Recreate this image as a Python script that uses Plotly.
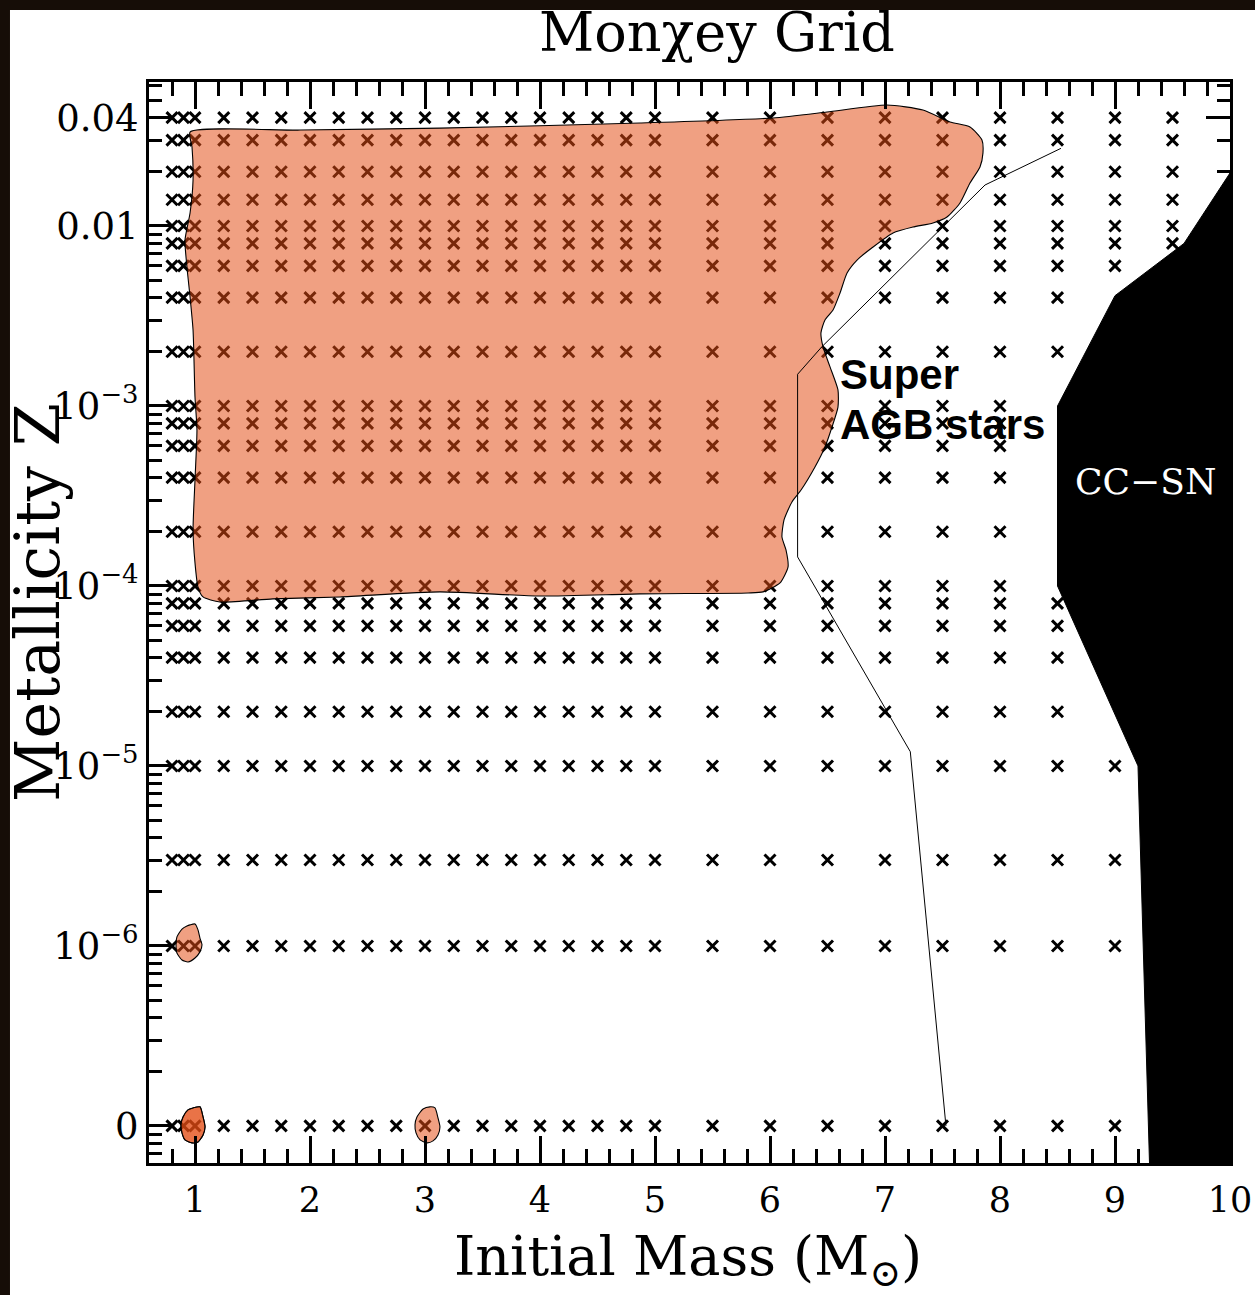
import numpy as np
import plotly.graph_objects as go

# ---------------- data ----------------
ZERO_Z = 1e-7  # position where Z = 0 is drawn on the log axis

grid_masses = [0.8, 0.9, 1.0, 1.25, 1.5, 1.75, 2.0, 2.25, 2.5, 2.75, 3.0, 3.25, 3.5,
               3.75, 4.0, 4.25, 4.5, 4.75, 5.0, 5.5, 6.0, 6.5, 7.0, 7.5, 8.0, 8.5, 9.0, 9.5]
grid_Z = [0.04, 0.03, 0.02, 0.014, 0.01, 0.008, 0.006, 0.004, 0.002, 0.001, 8e-4, 6e-4,
          4e-4, 2e-4, 1e-4, 8e-5, 6e-5, 4e-5, 2e-5, 1e-5, 3e-6, 1e-6, 0.0]
grid_max_mass = [9.5, 9.5, 9.5, 9.5, 9.5, 9.5, 9.0, 8.5, 8.5, 8.0, 8.0, 8.0,
                 8.0, 8.0, 8.0, 8.5, 8.5, 8.5, 8.5, 9.0, 9.0, 9.0, 9.0]

# main shaded region (mass, log10 Z)
region_mass = [0.957, 1.913, 3.130, 4.870, 6.026, 6.496, 7.017, 7.330, 7.565, 7.739, 7.843,
               7.852, 7.826, 7.739, 7.652, 7.539, 7.417, 7.243, 7.070, 6.896, 6.757, 6.670,
               6.609, 6.548, 6.478, 6.443, 6.461, 6.522, 6.591, 6.591, 6.539, 6.478, 6.391,
               6.270, 6.191, 6.122, 6.104, 6.139, 6.157, 6.087, 5.939, 5.809, 4.870, 4.000,
               3.130, 2.261, 1.678, 1.217, 1.070, 1.026, 1.000, 0.983, 1.000, 1.017, 1.000,
               0.983, 0.957, 0.930, 0.913, 0.957, 0.983, 0.974, 0.957]
region_logZ = [-1.478, -1.467, -1.456, -1.428, -1.400, -1.367, -1.328, -1.356, -1.422, -1.450,
               -1.522, -1.594, -1.672, -1.761, -1.872, -1.950, -1.983, -2.006, -2.039, -2.117,
               -2.189, -2.261, -2.372, -2.467, -2.522, -2.594, -2.672, -2.783, -2.911, -3.006,
               -3.117, -3.228, -3.339, -3.467, -3.533, -3.633, -3.728, -3.800, -3.894, -3.983,
               -4.033, -4.039, -4.044, -4.056, -4.033, -4.061, -4.072, -4.089, -4.061, -4.006,
               -3.872, -3.689, -3.411, -3.133, -2.950, -2.578, -2.394, -2.228, -2.078, -1.928,
               -1.744, -1.561, -1.478]

# small blobs (mass, log10 Z)
blob1_mass = [0.957, 1.000, 1.026, 1.043, 1.061, 1.043, 1.000, 0.939, 0.887, 0.843, 0.835, 0.843, 0.887, 0.930, 0.957]
blob1_logZ = [-5.883, -5.878, -5.911, -5.956, -5.994, -6.033, -6.067, -6.089, -6.078, -6.039, -5.994, -5.950, -5.906, -5.889, -5.883]
blob2_mass = [0.983, 1.043, 1.070, 1.087, 1.070, 1.026, 0.974, 0.913, 0.887, 0.878, 0.896, 0.939, 0.983]
blob2_logZ = [-6.900, -6.894, -6.950, -7.006, -7.050, -7.089, -7.094, -7.078, -7.039, -6.994, -6.950, -6.911, -6.900]
blob3_mass = [3.043, 3.087, 3.113, 3.130, 3.113, 3.070, 3.017, 2.957, 2.922, 2.913, 2.930, 2.983, 3.043]
blob3_logZ = [-6.894, -6.900, -6.956, -7.006, -7.050, -7.083, -7.094, -7.078, -7.039, -6.994, -6.950, -6.906, -6.894]

# super-AGB boundary line
sagb_mass = [8.53, 7.87, 6.45, 6.24, 6.24, 7.22, 7.53]
sagb_Z = [0.027, 0.0169, 0.00213, 0.0015, 1.45e-4, 1.2e-5, 0.0]

# core-collapse SN region
ccsn_mass = [10.0, 9.6, 9.0, 8.5, 8.5, 9.2, 9.3, 10.0, 10.0]
ccsn_Z = [0.0197, 0.008, 0.0041, 0.001, 1e-4, 1e-5, 6.2e-8, 6.2e-8, 0.0197]

y_tickvals = [1e-7, 1e-6, 1e-5, 1e-4, 1e-3, 1e-2, 0.04]
y_ticktext = ["0", "10<sup>−6</sup>", "10<sup>−5</sup>", "10<sup>−4</sup>",
              "10<sup>−3</sup>", "0.01", "0.04"]
x_tickvals = [1, 2, 3, 4, 5, 6, 7, 8, 9, 10]


def zpos(z):
    return [ZERO_Z if v == 0 else v for v in z]


# ---------------- figure ----------------
fig = go.Figure()

gx, gy = [], []
for z, mmax in zip(grid_Z, grid_max_mass):
    for m in grid_masses:
        if m <= mmax + 1e-9:
            gx.append(m)
            gy.append(ZERO_Z if z == 0 else z)

fig.add_trace(go.Scatter(
    x=gx, y=gy, mode="markers",
    marker=dict(symbol="x-thin", size=11, color="black",
                line=dict(width=3, color="black")),
    hoverinfo="skip", showlegend=False))

FILL = "rgba(226,75,19,0.53)"
for mx, lz in [(region_mass, region_logZ), (blob1_mass, blob1_logZ),
               (blob2_mass, blob2_logZ), (blob2_mass, blob2_logZ),
               (blob3_mass, blob3_logZ)]:
    fig.add_trace(go.Scatter(
        x=mx, y=list(10 ** np.array(lz)), mode="lines", fill="toself",
        fillcolor=FILL, line=dict(color="black", width=1.1, shape="spline", smoothing=0.6),
        hoverinfo="skip", showlegend=False))

fig.add_trace(go.Scatter(
    x=sagb_mass, y=zpos(sagb_Z), mode="lines",
    line=dict(color="black", width=1), hoverinfo="skip", showlegend=False))

fig.add_trace(go.Scatter(
    x=ccsn_mass, y=ccsn_Z, mode="lines", fill="toself",
    fillcolor="black", line=dict(color="black", width=1),
    hoverinfo="skip", showlegend=False))

# minor ticks for the log axis
y_minor = []
for d in range(-8, -1):
    for k in range(2, 10):
        v = k * 10.0 ** d
        if 6.2e-8 < v < 0.063 and abs(v - 0.04) > 1e-9:
            y_minor.append(v)

SERIF = "DejaVu Serif"
axis_common = dict(showline=True, linewidth=3, linecolor="black", mirror="ticks",
                   ticks="inside", tickwidth=2.6, tickcolor="black", showgrid=False,
                   zeroline=False, automargin=False)

fig.update_xaxes(range=[0.6, 10], tickvals=x_tickvals, ticklen=27,
                 ticklabelstandoff=4,
                 tickfont=dict(family=SERIF, size=35, color="black"),
                 minor=dict(ticks="inside", tick0=0, dtick=0.2, ticklen=14,
                            tickwidth=2.6, tickcolor="black", showgrid=False),
                 **axis_common)
fig.update_yaxes(type="log", range=[-7.206, -1.2], tickvals=y_tickvals,
                 ticktext=y_ticktext, ticklen=24, ticklabelstandoff=0,
                 tickfont=dict(family=SERIF, size=37, color="black"),
                 minor=dict(ticks="inside", tickmode="array", tickvals=y_minor,
                            ticklen=13, tickwidth=2.6, tickcolor="black", showgrid=False),
                 **axis_common)

annotations = [
    dict(text="Monχey Grid", x=0.5255, y=1.0462, xref="paper", yref="paper",
         xanchor="center", yanchor="middle",
         showarrow=False, font=dict(family=SERIF, size=54, color="black")),
    dict(text="Initial Mass (M<sub>⊙</sub>)", x=0.4986, y=-0.0895, xref="paper",
         yref="paper", xanchor="center", yanchor="middle",
         showarrow=False, font=dict(family=SERIF, size=54, color="black")),
    dict(text="Metallicity Z", x=-0.1027, y=0.519, xref="paper", yref="paper",
         xanchor="center", yanchor="middle",
         textangle=-90, showarrow=False, font=dict(family=SERIF, size=62, color="black")),
    dict(text="<b>Super</b>", x=0.6374, y=0.729, xref="paper", yref="paper",
         xanchor="left", yanchor="middle", showarrow=False,
         font=dict(family="Liberation Sans", size=42, color="black")),
    dict(text="<b>AGB stars</b>", x=0.6374, y=0.6836, xref="paper", yref="paper",
         xanchor="left", yanchor="middle", showarrow=False,
         font=dict(family="Liberation Sans", size=42, color="black")),
    dict(text="CC−SN", x=0.9214, y=0.630, xref="paper", yref="paper",
         xanchor="center", yanchor="middle",
         showarrow=False, font=dict(family=SERIF, size=36, color="white")),
]

DARK = "#160d07"
shapes = [
    dict(type="rect", xref="paper", yref="paper", x0=-0.1379, x1=-0.1286,
         y0=-0.1222, y1=1.0760, fillcolor=DARK, line=dict(width=0), layer="above"),
    dict(type="rect", xref="paper", yref="paper", x0=-0.1379, x1=1.0232,
         y0=1.0666, y1=1.0760, fillcolor=DARK, line=dict(width=0), layer="above"),
]

fig.update_layout(
    width=1255, height=1295,
    margin=dict(l=149, r=25, t=82, b=132),
    paper_bgcolor="white", plot_bgcolor="white",
    annotations=annotations, shapes=shapes,
    showlegend=False,
)

fig.write_html("out.html", config={"displayModeBar": False},
               post_script="document.body.style.margin='0';document.body.style.overflow='hidden';")
